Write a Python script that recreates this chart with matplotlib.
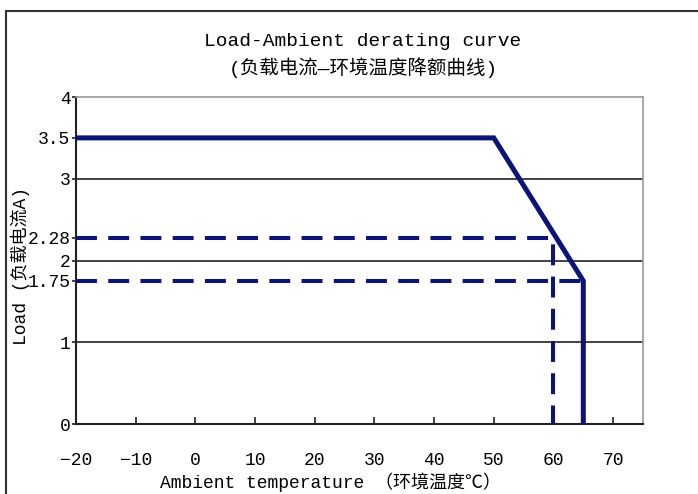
import matplotlib.pyplot as plt
from matplotlib.patches import Rectangle

# derating curve (temperature in C, load in A)
curve_temp = [-20, 50, 65, 65]
curve_load = [3.5, 3.5, 1.75, 0]

# dashed guide lines: 2.28 A at 60 C, 1.75 A at 65 C
guide_a_temp = [-20, 60, 60]
guide_a_load = [2.28, 2.28, 0]
guide_b_temp = [-20, 65]
guide_b_load = [1.75, 1.75]

x_ticks = [-20, -10, 0, 10, 20, 30, 40, 50, 60, 70]
y_ticks = [0, 1, 1.75, 2, 2.28, 3, 3.5, 4]
y_tick_labels = ['0', '1', '1.75', '2', '2.28', '3', '3.5', '4']
grid_levels = [1, 2, 3]

fonts = ['Liberation Mono', 'Noto Sans CJK SC', 'DejaVu Sans']
plt.rcParams['font.family'] = fonts
navy = '#0c1478'

fig = plt.figure(figsize=(6.98, 4.94), dpi=100)
ax = fig.add_axes([76 / 698, 70 / 494, 567 / 698, 327 / 494])

# outer frame of the picture
fig.patches.append(Rectangle((6 / 698, -0.1), 1.1, 1.1 - 11 / 494,
                             transform=fig.transFigure, fill=False,
                             edgecolor='#333333', linewidth=1.5))

for g in grid_levels:
    ax.axhline(g, color='#222222', linewidth=1.2, zorder=1)

ax.plot(guide_a_temp, guide_a_load, color=navy, linewidth=2.9,
        dashes=(5.2, 2.8), zorder=3)
ax.plot(guide_b_temp, guide_b_load, color=navy, linewidth=2.9,
        dashes=(5.2, 2.8), zorder=3)
ax.plot(curve_temp, curve_load, color=navy, linewidth=3.6, zorder=4,
        solid_joinstyle='miter')

ax.set_xlim(-20, 75)
ax.set_ylim(0, 4)
ax.set_xticks(x_ticks)
ax.set_yticks(y_ticks)
ax.set_yticklabels(y_tick_labels)
ax.tick_params(axis='x', direction='in', length=5, width=1.2, pad=20,
               labelsize=13, color='#222222')
ax.tick_params(axis='y', direction='out', length=3, width=1.2, pad=1,
               labelsize=13, color='#222222')

for side in ['top', 'right']:
    ax.spines[side].set_color('#999999')
    ax.spines[side].set_linewidth(1.2)
for side in ['left', 'bottom']:
    ax.spines[side].set_color('#222222')
    ax.spines[side].set_linewidth(1.5)

ax.set_xlabel('Ambient temperature （环境温度℃）', fontsize=13)
ax.xaxis.set_label_coords((330 - 76) / 567, (424 - 473) / 327)
ax.set_ylabel('Load (负载电流A)', fontsize=13)
ax.yaxis.set_label_coords((30 - 76) / 567, (424 - 266) / 327)

fig.text(363 / 698, 1 - 42 / 494, 'Load-Ambient derating curve',
         ha='center', va='center', fontsize=14)
fig.text(363 / 698, 1 - 68 / 494, '(负载电流—环境温度降额曲线)',
         ha='center', va='center', fontsize=14)

fig.savefig('out.png', dpi=100)
